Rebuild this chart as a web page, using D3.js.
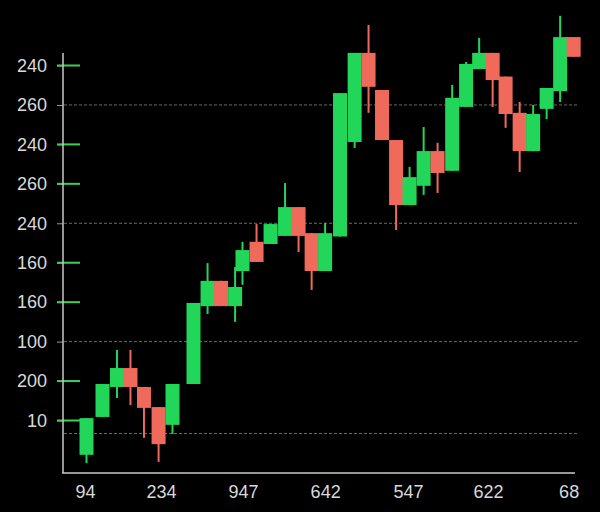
<!DOCTYPE html>
<html>
<head>
<meta charset="utf-8">
<script src="https://cdn.jsdelivr.net/npm/d3@7"></script>
<style>
  html, body { margin: 0; padding: 0; background: #000; }
  svg { display: block; }
</style>
</head>
<body>
<script>
// ---- data ----
const sessions = [0, 1.15, 2.19, 3.16, 4.13, 5.18, 6.18, 7.69, 8.7, 9.67, 10.68, 11.21, 12.22, 13.23, 14.27, 15.24, 16.18, 17.15, 18.22, 19.27, 20.27, 21.24, 22.25, 23.22, 24.23, 25.23, 26.28, 27.28, 28.22, 29.19, 30.12, 31.13, 32.1, 33.07, 34.04, 35.01];
const opens  = [1.3, 10.9, 18.5, 23.3, 18.5, 13.4, 8.9, 19.25, 39.0, 45.4, 39.0, 47.9, 55.3, 54.75, 56.8, 64.1, 57.5, 47.9, 56.65, 80.6, 103.2, 93.8, 81.1, 64.6, 69.5, 78.3, 73.3, 89.5, 99.1, 103.2, 97.2, 88.0, 78.3, 89.0, 93.5, 107.2];
const closes = [10.6, 19.25, 23.3, 18.5, 13.2, 4.0, 19.25, 39.8, 45.4, 39.0, 43.85, 53.2, 50.2, 59.8, 64.1, 56.8, 47.9, 57.5, 93.0, 103.2, 94.6, 81.1, 64.6, 71.7, 78.3, 72.75, 91.8, 100.4, 103.2, 96.3, 87.7, 78.3, 87.7, 94.3, 107.2, 102.2];
const highs  = [10.6, 19.25, 27.9, 27.9, 18.5, 13.4, 19.25, 39.8, 49.9, 45.4, 48.9, 55.3, 59.8, 59.8, 70.2, 64.1, 57.5, 60.1, 93.0, 103.2, 110.3, 93.8, 81.1, 74.3, 84.4, 80.4, 95.1, 100.9, 107.0, 103.2, 97.2, 90.75, 90.0, 94.3, 112.6, 107.2];
const lows   = [-0.8, 10.9, 15.7, 13.9, 5.6, -0.5, 6.6, 19.25, 37.0, 39.0, 35.0, 44.4, 50.2, 54.75, 56.8, 52.7, 43.1, 47.9, 56.65, 79.1, 88.0, 81.1, 58.3, 64.6, 67.2, 67.7, 73.3, 89.5, 99.1, 89.5, 84.2, 73.0, 78.3, 86.4, 90.75, 102.2];

const yTickValues = [100, 90, 80, 70, 60, 50, 40, 30, 20, 10];
const yTickLabels = ["240", "260", "240", "260", "240", "160", "160", "100", "200", "10"];
const greenTickValues = [100, 80, 70, 50, 40, 20, 10];
const gridValues = [90, 60, 30, 6.7];
const xTickValues = [-0.1, 5.35, 11.25, 17.15, 23.1, 28.85, 34.65];
const xTickLabels = ["94", "234", "947", "642", "547", "622", "68"];

// ---- layout ----
const W = 600, H = 512;
const upColor = "#22d65a", downColor = "#f06a5c";
const candleW = 14;

const svg = d3.select("body").append("svg").attr("width", W).attr("height", H)
  .style("background", "#000");

const x = d3.scaleLinear().domain([0, 35]).range([86.5, 573.5]);
const y = d3.scaleLinear().domain([10, 100]).range([420.5, 65.5]);

const candles = sessions.map((s, i) => ({ s, o: opens[i], c: closes[i], h: highs[i], l: lows[i] }));

// grid lines (dotted)
svg.append("g").selectAll("line").data(gridValues).join("line")
  .attr("x1", 64).attr("x2", 578)
  .attr("y1", d => y(d)).attr("y2", d => y(d))
  .attr("stroke", "#6a6a6a").attr("stroke-width", 1)
  .attr("stroke-dasharray", "3,2");

// y axis via d3.axisLeft with custom labels
const yAxis = d3.axisLeft(y).tickValues(yTickValues)
  .tickFormat((d, i) => yTickLabels[i]).tickSize(6).tickPadding(10);
const gy = svg.append("g").attr("transform", "translate(63,0)").call(yAxis);
gy.select(".domain").remove();
gy.selectAll(".tick line").attr("stroke", "#9a9a9a");
gy.selectAll(".tick text").attr("fill", "#d9d9d9")
  .style("font-family", "'Liberation Sans', Arial, sans-serif").style("font-size", "18px");

// green tick marks
svg.append("g").selectAll("line").data(greenTickValues).join("line")
  .attr("x1", 57).attr("x2", 80)
  .attr("y1", d => y(d)).attr("y2", d => y(d))
  .attr("stroke", "#3fcf55").attr("stroke-width", 2);

// axis lines
svg.append("line").attr("x1", 63).attr("x2", 63).attr("y1", 53).attr("y2", 473)
  .attr("stroke", "#c8c8c8").attr("stroke-width", 1.5);

// x axis
const xAxis = d3.axisBottom(x).tickValues(xTickValues)
  .tickFormat((d, i) => xTickLabels[i]).tickSize(0).tickPadding(12);
const gx = svg.append("g").attr("transform", "translate(0,473)").call(xAxis);
gx.select(".domain").remove();
gx.selectAll(".tick text").attr("fill", "#d9d9d9")
  .style("font-family", "'Liberation Sans Narrow', 'Liberation Sans', Arial, sans-serif").style("font-size", "18px");
svg.append("line").attr("x1", 62).attr("x2", 575).attr("y1", 473).attr("y2", 473)
  .attr("stroke", "#c8c8c8").attr("stroke-width", 1.5);

// candles
const g = svg.append("g");
g.selectAll("line.wick").data(candles).join("line").attr("class", "wick")
  .attr("x1", d => x(d.s)).attr("x2", d => x(d.s))
  .attr("y1", d => y(d.h)).attr("y2", d => y(d.l))
  .attr("stroke", d => d.c >= d.o ? upColor : downColor).attr("stroke-width", 2);
g.selectAll("rect.body").data(candles).join("rect").attr("class", "body")
  .attr("x", d => x(d.s) - candleW / 2).attr("width", candleW)
  .attr("y", d => y(Math.max(d.o, d.c)))
  .attr("height", d => Math.max(1, Math.abs(y(d.o) - y(d.c))))
  .attr("fill", d => d.c >= d.o ? upColor : downColor);
</script>
</body>
</html>
